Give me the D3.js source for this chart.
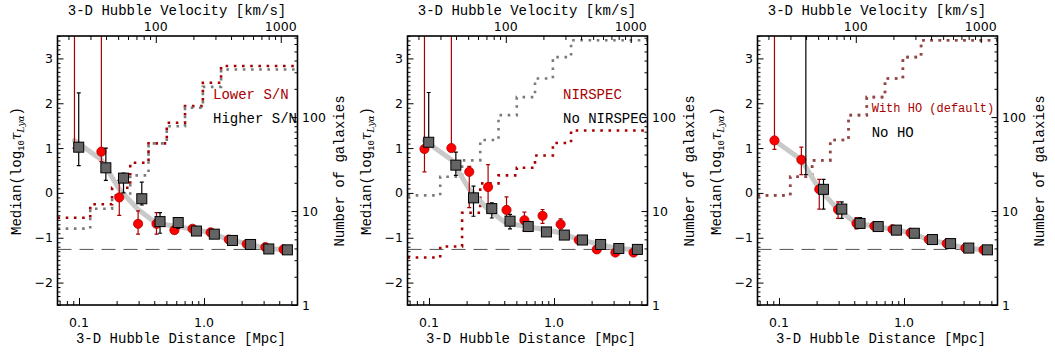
<!DOCTYPE html>
<html>
<head>
<meta charset="utf-8">
<script src="https://cdn.jsdelivr.net/npm/d3@7"></script>
<style>
  body { margin: 0; background: #fff; }
</style>
</head>
<body>
<div id="chart"></div>
<script>
// Bin centres (Mpc); red points are drawn slightly left of the squares
const distRed  = [0.092, 0.151, 0.21, 0.297, 0.417, 0.58, 0.81, 1.13, 1.58, 2.2, 3.1, 4.33];
const distGray = [0.0995, 0.164, 0.227, 0.318, 0.445, 0.622, 0.87, 1.21, 1.69, 2.36, 3.3, 4.65];

// Default (fiducial) medians - also the grey reference curve in every panel
const defaultMed = [1.17, 0.74, 0.08, -0.37, -0.68, -0.74, -0.81, -0.89, -1.04, -1.13, -1.23, -1.27];
const defaultLo  = [0.97, 0.41, -0.36, -0.57, -0.80, -0.80, -0.85, -0.93, -1.08, -1.17, -1.27, -1.31];
const defaultHi  = [9, 1.02, 0.30, -0.20, -0.55, -0.66, -0.77, -0.85, -1.00, -1.09, -1.19, -1.23];

// Panel 1: S/N split
const lowSnMed  = [4.5, 0.92, -0.10, -0.69, -0.69, -0.83, -0.80, -0.88, -1.04, -1.14, -1.21, -1.26];
const lowSnLo   = [1.00, 0.70, -0.50, -0.92, -0.92, -0.90, -0.86, -0.93, -1.08, -1.18, -1.25, -1.29];
const lowSnHi   = [9, 9, 0.28, -0.40, -0.44, -0.76, -0.74, -0.83, -1.00, -1.10, -1.17, -1.23];
const highSnMed = [1.02, 0.56, 0.33, -0.13, -0.64, -0.66, -0.85, -0.92, -1.06, -1.15, -1.25, -1.27];
const highSnLo  = [0.61, 0.28, 0.00, -0.27, -0.90, -0.79, -0.92, -0.96, -1.10, -1.19, -1.28, -1.30];
const highSnHi  = [2.23, 1.00, 0.44, 0.24, -0.44, -0.56, -0.78, -0.88, -1.02, -1.11, -1.22, -1.24];

// Panel 2: NIRSPEC split
const nirMed   = [0.98, 1.00, 0.47, 0.13, -0.38, -0.61, -0.51, -0.70, -1.05, -1.26, -1.33, -1.33];
const nirLo    = [0.47, 0.95, -0.33, -0.43, -0.67, -0.84, -0.68, -0.80, -1.09, -1.30, -1.37, -1.37];
const nirHi    = [9, 9, 0.59, 0.63, -0.09, -0.43, -0.37, -0.58, -1.01, -1.22, -1.29, -1.29];
const noNirMed = [1.13, 0.62, -0.11, -0.35, -0.63, -0.75, -0.87, -0.94, -1.05, -1.15, -1.24, -1.26];
const noNirLo  = [1.05, 0.39, -0.52, -0.56, -0.80, -0.85, -0.91, -0.98, -1.09, -1.19, -1.28, -1.30];
const noNirHi  = [2.24, 0.91, 0.15, -0.22, -0.48, -0.65, -0.83, -0.90, -1.01, -1.11, -1.20, -1.22];

// Panel 3: without HO
const noHoMed = [null, 4.5, 0.08, -0.36, -0.68, -0.75, -0.83, -0.90, -1.04, -1.13, -1.23, -1.27];
const noHoLo  = [null, 0.41, -0.36, -0.57, -0.79, -0.80, -0.87, -0.94, -1.08, -1.17, -1.27, -1.31];
const noHoHi  = [null, 9, 0.30, -0.20, -0.55, -0.68, -0.79, -0.86, -1.00, -1.09, -1.19, -1.23];

// Cumulative galaxy counts (right axis), step edges in Mpc
const stepEdges   = [0.123, 0.184, 0.257, 0.36, 0.504, 0.705, 0.98, 1.37];
const lowSnCount  = [8.5, 11.8, 17.7, 32.7, 52.5, 87, 131, 232, 350];
const highSnCount = [6.5, 10.6, 14.7, 24, 52.5, 80, 126, 210, 321];
const nirCount    = [3.2, 4.2, 9.6, 19.7, 24, 28.9, 39, 53, 72];
const allCount    = [14.7, 23.2, 34.6, 57, 105, 163, 258, 435, 659];

const meanFlux = -1.26;   // dashed reference level
const H0 = 243;           // km/s/Mpc for the top axis

const xTickLabels = { 0.1: "0.1", 1: "1.0" };
const vTickLabels = { 100: "100", 1000: "1000" };
const yTicks = [-2, -1, 0, 1, 2, 3];
const nTicks = [1, 10, 100];

const panels = [
  { off: 0,
    red:  { med: lowSnMed, lo: lowSnLo, hi: lowSnHi, count: lowSnCount, label: "Lower S/N" },
    gray: { med: highSnMed, lo: highSnLo, hi: highSnHi, count: highSnCount, label: "Higher S/N" },
    legend: { x: 213, y1: 99.3, y2: 123, size1: 14 } },
  { off: 350,
    red:  { med: nirMed, lo: nirLo, hi: nirHi, count: nirCount, label: "NIRSPEC" },
    gray: { med: noNirMed, lo: noNirLo, hi: noNirHi, count: allCount, label: "No NIRSPEC" },
    legend: { x: 213, y1: 99.3, y2: 123, size1: 14 } },
  { off: 700,
    red:  { med: defaultMed, lo: defaultLo, hi: defaultHi, count: allCount, label: "With HO (default)" },
    gray: { med: noHoMed, lo: noHoLo, hi: noHoHi, count: allCount, label: "No HO", stepOpacity: 0.6 },
    legend: { x: 171.7, y1: 111.5, y2: 136.5, size1: 12 } }
];

const W = 1055, H = 352;
const plot = { left: 57.5, right: 297.5, top: 36, bottom: 305 };
const RED = "#ff0000", DARKRED = "#a80000", SQ = "#646464";
const mono = "'Liberation Mono', 'Courier New', monospace";

const svg = d3.select("#chart").append("svg")
  .attr("width", W).attr("height", H)
  .style("font-family", "'DejaVu Sans', sans-serif");

svg.append("defs").append("clipPath").attr("id", "clip")
  .append("rect")
  .attr("x", plot.left).attr("y", plot.top)
  .attr("width", plot.right - plot.left).attr("height", plot.bottom - plot.top);

const x = d3.scaleLog().domain([0.0673, 5.6]).range([plot.left, plot.right]);
const xv = d3.scaleLog().domain([0.0673 * H0, 5.6 * H0]).range([plot.left, plot.right]);
const y = d3.scaleLinear().domain([-2.5, 3.5]).range([plot.bottom, plot.top]);
const yN = d3.scaleLog().domain([1, 730]).range([plot.bottom, plot.top]);

const isPow10 = v => Math.abs(Math.log10(v) - Math.round(Math.log10(v))) < 1e-6;

function drawAxes(g) {
  const xMinor = x.ticks().filter(v => !isPow10(v));
  const vMinor = xv.ticks().filter(v => !isPow10(v));
  const nMinor = yN.ticks().filter(v => !isPow10(v));
  const yMinor = d3.range(-25, 36).map(v => v / 10).filter(v => !Number.isInteger(v));

  const tickGroups = [
    { axis: d3.axisBottom(x).tickValues([0.1, 1]).tickSize(-7), at: plot.bottom, dir: "x" },
    { axis: d3.axisBottom(x).tickValues(xMinor).tickSize(-4), at: plot.bottom, dir: "x" },
    { axis: d3.axisTop(xv).tickValues([100, 1000]).tickSize(-7), at: plot.top, dir: "x" },
    { axis: d3.axisTop(xv).tickValues(vMinor).tickSize(-4), at: plot.top, dir: "x" },
    { axis: d3.axisLeft(y).tickValues(yTicks).tickSize(-6), at: plot.left, dir: "y" },
    { axis: d3.axisLeft(y).tickValues(yMinor).tickSize(-3), at: plot.left, dir: "y" },
    { axis: d3.axisRight(yN).tickValues(nTicks).tickSize(-6), at: plot.right, dir: "y" },
    { axis: d3.axisRight(yN).tickValues(nMinor).tickSize(-3), at: plot.right, dir: "y" }
  ];
  tickGroups.forEach(t => {
    const a = g.append("g")
      .attr("transform", t.dir === "x" ? `translate(0,${t.at})` : `translate(${t.at},0)`)
      .call(t.axis.tickFormat(""));
    a.select(".domain").remove();
    a.selectAll("line").attr("stroke", "#000").attr("stroke-width", 1);
    a.selectAll("text").remove();
  });

  const fs = "12.5px";
  g.selectAll(".xl").data([0.1, 1]).enter().append("text")
    .attr("x", d => x(d)).attr("y", 326.5).attr("text-anchor", "middle")
    .attr("font-size", fs).text(d => xTickLabels[d]);
  g.selectAll(".vl").data([100, 1000]).enter().append("text")
    .attr("x", d => xv(d)).attr("y", 30.5).attr("text-anchor", "middle")
    .attr("font-size", fs).text(d => vTickLabels[d]);
  g.selectAll(".yl").data(yTicks).enter().append("text")
    .attr("x", 53).attr("y", d => y(d)).attr("dy", "0.36em").attr("text-anchor", "end")
    .attr("font-size", fs).text(d => d < 0 ? "\u2212" + Math.abs(d) : d);
  g.selectAll(".nl").data(nTicks).enter().append("text")
    .attr("x", 302).attr("y", d => yN(d)).attr("dy", "0.36em")
    .attr("font-size", fs).text(d => d);

  g.append("rect")
    .attr("x", plot.left).attr("y", plot.top)
    .attr("width", plot.right - plot.left).attr("height", plot.bottom - plot.top)
    .attr("fill", "none").attr("stroke", "#000").attr("stroke-width", 1.6);

  // axis titles
  g.append("text").attr("x", 177).attr("y", 15).attr("text-anchor", "middle")
    .attr("font-family", mono).attr("font-size", "14px").text("3-D Hubble Velocity [km/s]");
  g.append("text").attr("x", 181).attr("y", 342.5).attr("text-anchor", "middle")
    .attr("font-family", mono).attr("font-size", "14px").text("3-D Hubble Distance [Mpc]");
  g.append("text").attr("transform", "translate(344,171) rotate(-90)").attr("text-anchor", "middle")
    .attr("font-family", mono).attr("font-size", "14px").text("Number of galaxies");

  const yt = g.append("text").attr("transform", "translate(20.5,171) rotate(-90)")
    .attr("text-anchor", "middle").attr("font-family", mono).attr("font-size", "14px");
  yt.append("tspan").text("Median(log");
  yt.append("tspan").attr("font-size", "9px").attr("dy", 3).text("10");
  yt.append("tspan").attr("font-family", "'DejaVu Serif', serif").attr("font-style", "italic").attr("dy", -3).text("\u03c4");
  yt.append("tspan").attr("font-size", "9px").attr("font-family", "'DejaVu Serif', serif").attr("font-style", "italic").attr("dy", 3).text("Ly\u03b1");
  yt.append("tspan").attr("dy", -3).text(")");
}

function stepPoints(counts) {
  const xs = [x.domain()[0], ...stepEdges, x.domain()[1]];
  const ys = [...counts, counts[counts.length - 1]];
  return xs.map((d, i) => [d, ys[i]]);
}

function drawPanel(p) {
  const g = svg.append("g").attr("transform", `translate(${p.off},0)`);
  const c = g.append("g").attr("clip-path", "url(#clip)");

  const step = d3.line().x(d => x(d[0])).y(d => yN(d[1])).curve(d3.curveStepAfter);
  c.append("path").attr("d", step(stepPoints(p.red.count)))
    .attr("fill", "none").attr("stroke", DARKRED).attr("stroke-width", 2.6)
    .attr("stroke-dasharray", "2.6,5.6");
  c.append("path").attr("d", step(stepPoints(p.gray.count)))
    .attr("fill", "none").attr("stroke", "#7a7a7a").attr("stroke-width", 2.6)
    .attr("stroke-opacity", p.gray.stepOpacity || 1)
    .attr("stroke-dasharray", "2.6,5.6");

  c.append("line")
    .attr("x1", plot.left).attr("x2", plot.right)
    .attr("y1", y(meanFlux)).attr("y2", y(meanFlux))
    .attr("stroke", "#555").attr("stroke-width", 1).attr("stroke-dasharray", "14,8");

  const curve = d3.line().x((d, i) => x(distRed[i])).y(d => y(d));
  c.append("path").attr("d", curve(defaultMed))
    .attr("fill", "none").attr("stroke", "#c9c9c9").attr("stroke-width", 5)
    .attr("stroke-linejoin", "round").attr("stroke-linecap", "round");

  function series(s, dist, color, marker) {
    const pts = s.med.map((m, i) => ({ d: dist[i], m, lo: s.lo[i], hi: s.hi[i] })).filter(d => d.m !== null);
    const eb = c.append("g").attr("stroke", color).attr("stroke-width", 1.2);
    pts.forEach(d => {
      eb.append("line").attr("x1", x(d.d)).attr("x2", x(d.d)).attr("y1", y(d.lo)).attr("y2", y(d.hi));
      eb.append("line").attr("x1", x(d.d) - 2).attr("x2", x(d.d) + 2).attr("y1", y(d.lo)).attr("y2", y(d.lo));
      eb.append("line").attr("x1", x(d.d) - 2).attr("x2", x(d.d) + 2).attr("y1", y(d.hi)).attr("y2", y(d.hi));
    });
    if (marker === "circle") {
      c.append("g").selectAll("circle").data(pts).enter().append("circle")
        .attr("cx", d => x(d.d)).attr("cy", d => y(d.m)).attr("r", 4.6)
        .attr("fill", RED).attr("stroke", "#b00000").attr("stroke-width", 0.8);
    } else {
      c.append("g").selectAll("rect").data(pts).enter().append("rect")
        .attr("x", d => x(d.d) - 5).attr("y", d => y(d.m) - 5)
        .attr("width", 10).attr("height", 10)
        .attr("fill", SQ).attr("stroke", "#000").attr("stroke-width", 1);
    }
  }
  series(p.red, distRed, DARKRED, "circle");
  series(p.gray, distGray, "#000", "square");

  g.append("text").attr("x", p.legend.x).attr("y", p.legend.y1)
    .attr("font-family", mono).attr("font-size", p.legend.size1 + "px")
    .attr("fill", DARKRED).text(p.red.label);
  g.append("text").attr("x", p.legend.x).attr("y", p.legend.y2)
    .attr("font-family", mono).attr("font-size", "14px")
    .attr("fill", "#000").text(p.gray.label);

  drawAxes(g);
}

panels.forEach(drawPanel);
</script>
</body>
</html>
